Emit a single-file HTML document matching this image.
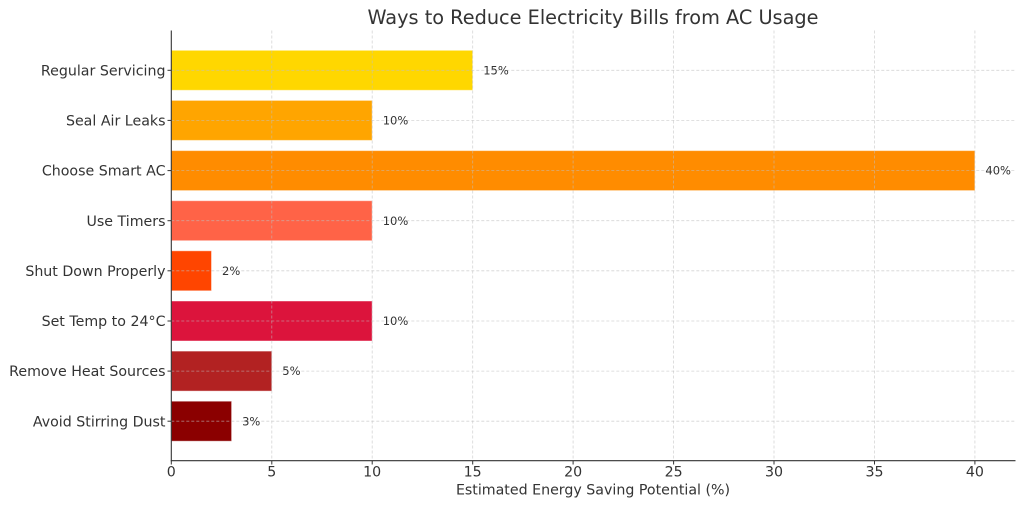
<!DOCTYPE html>
<html>
<head>
<meta charset="utf-8">
<style>
  html, body { margin: 0; padding: 0; background: #ffffff; }
  svg { display: block; }
  text { font-family: "DejaVu Sans", "Liberation Sans", sans-serif; fill: #333333; }
</style>
</head>
<body>
<svg width="1024" height="507" viewBox="0 0 1024 507" xmlns="http://www.w3.org/2000/svg">
  <rect x="0" y="0" width="1024" height="507" fill="#ffffff"/>

  <!-- Title -->
  <text x="593" y="24" font-size="19.3" text-anchor="middle">Ways to Reduce Electricity Bills from AC Usage</text>

  <!-- Bars (x0=171.3, 20.09 px/unit) -->
  <g stroke="rgba(255,255,255,0.45)" stroke-width="1">
    <rect x="171.3" y="50.3"  width="301.4" height="40" fill="#FFD700"/>
    <rect x="171.3" y="100.4" width="200.9" height="40" fill="#FFA500"/>
    <rect x="171.3" y="150.6" width="803.6" height="40" fill="#FF8C00"/>
    <rect x="171.3" y="200.7" width="200.9" height="40" fill="#FF6347"/>
    <rect x="171.3" y="250.8" width="40.2"  height="40" fill="#FF4500"/>
    <rect x="171.3" y="301.0" width="200.9" height="40" fill="#DC143C"/>
    <rect x="171.3" y="351.1" width="100.5" height="40" fill="#B22222"/>
    <rect x="171.3" y="401.2" width="60.3"  height="40" fill="#8B0000"/>
  </g>

  <!-- Grid (drawn over bars) -->
  <g stroke="rgba(190,190,190,0.65)" stroke-width="0.8" stroke-dasharray="3,2" fill="none">
    <line x1="271.8" y1="30.5" x2="271.8" y2="460.7"/>
    <line x1="372.2" y1="30.5" x2="372.2" y2="460.7"/>
    <line x1="472.7" y1="30.5" x2="472.7" y2="460.7"/>
    <line x1="573.1" y1="30.5" x2="573.1" y2="460.7"/>
    <line x1="673.6" y1="30.5" x2="673.6" y2="460.7"/>
    <line x1="774.0" y1="30.5" x2="774.0" y2="460.7"/>
    <line x1="874.5" y1="30.5" x2="874.5" y2="460.7"/>
    <line x1="974.9" y1="30.5" x2="974.9" y2="460.7"/>

    <line x1="171.3" y1="70.3"  x2="1015.5" y2="70.3"/>
    <line x1="171.3" y1="120.4" x2="1015.5" y2="120.4"/>
    <line x1="171.3" y1="170.6" x2="1015.5" y2="170.6"/>
    <line x1="171.3" y1="220.7" x2="1015.5" y2="220.7"/>
    <line x1="171.3" y1="270.8" x2="1015.5" y2="270.8"/>
    <line x1="171.3" y1="321.0" x2="1015.5" y2="321.0"/>
    <line x1="171.3" y1="371.1" x2="1015.5" y2="371.1"/>
    <line x1="171.3" y1="421.2" x2="1015.5" y2="421.2"/>
  </g>

  <!-- Spines -->
  <g stroke="#333333" stroke-width="1.1">
    <line x1="171.3" y1="30.5" x2="171.3" y2="461.2"/>
    <line x1="170.8" y1="460.7" x2="1015.5" y2="460.7"/>
  </g>

  <!-- Ticks -->
  <g stroke="#333333" stroke-width="1">
    <line x1="167.5" y1="70.3"  x2="171.3" y2="70.3"/>
    <line x1="167.5" y1="120.4" x2="171.3" y2="120.4"/>
    <line x1="167.5" y1="170.6" x2="171.3" y2="170.6"/>
    <line x1="167.5" y1="220.7" x2="171.3" y2="220.7"/>
    <line x1="167.5" y1="270.8" x2="171.3" y2="270.8"/>
    <line x1="167.5" y1="321.0" x2="171.3" y2="321.0"/>
    <line x1="167.5" y1="371.1" x2="171.3" y2="371.1"/>
    <line x1="167.5" y1="421.2" x2="171.3" y2="421.2"/>

    <line x1="171.3" y1="460.7" x2="171.3" y2="464.5"/>
    <line x1="271.8" y1="460.7" x2="271.8" y2="464.5"/>
    <line x1="372.2" y1="460.7" x2="372.2" y2="464.5"/>
    <line x1="472.7" y1="460.7" x2="472.7" y2="464.5"/>
    <line x1="573.1" y1="460.7" x2="573.1" y2="464.5"/>
    <line x1="673.6" y1="460.7" x2="673.6" y2="464.5"/>
    <line x1="774.0" y1="460.7" x2="774.0" y2="464.5"/>
    <line x1="874.5" y1="460.7" x2="874.5" y2="464.5"/>
    <line x1="974.9" y1="460.7" x2="974.9" y2="464.5"/>
  </g>

  <!-- Y tick labels -->
  <g font-size="14.2" text-anchor="end">
    <text x="165.5" y="75.4">Regular Servicing</text>
    <text x="165.5" y="125.5">Seal Air Leaks</text>
    <text x="165.5" y="175.7">Choose Smart AC</text>
    <text x="165.5" y="225.8">Use Timers</text>
    <text x="165.5" y="275.9">Shut Down Properly</text>
    <text x="165.5" y="326.1">Set Temp to 24°C</text>
    <text x="165.5" y="376.2">Remove Heat Sources</text>
    <text x="165.5" y="426.3">Avoid Stirring Dust</text>
  </g>

  <!-- X tick labels -->
  <g font-size="14.2" text-anchor="middle">
    <text x="171.3" y="476.5">0</text>
    <text x="271.8" y="476.5">5</text>
    <text x="372.2" y="476.5">10</text>
    <text x="472.7" y="476.5">15</text>
    <text x="573.1" y="476.5">20</text>
    <text x="673.6" y="476.5">25</text>
    <text x="774.0" y="476.5">30</text>
    <text x="874.5" y="476.5">35</text>
    <text x="974.9" y="476.5">40</text>
  </g>

  <!-- X axis label -->
  <text x="593" y="494.5" font-size="14.2" text-anchor="middle">Estimated Energy Saving Potential (%)</text>

  <!-- Value labels -->
  <g font-size="11.5">
    <text x="483.2" y="74.4">15%</text>
    <text x="382.7" y="124.5">10%</text>
    <text x="985.4" y="174.7">40%</text>
    <text x="382.7" y="224.8">10%</text>
    <text x="222.0" y="274.9">2%</text>
    <text x="382.7" y="325.1">10%</text>
    <text x="282.3" y="375.2">5%</text>
    <text x="242.1" y="425.3">3%</text>
  </g>
</svg>
</body>
</html>
